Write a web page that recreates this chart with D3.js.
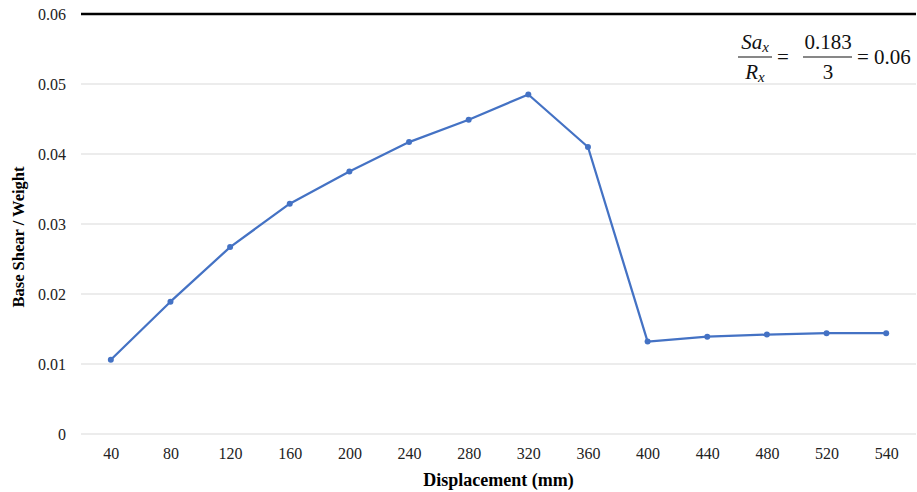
<!DOCTYPE html>
<html>
<head>
<meta charset="utf-8">
<script src="https://cdn.jsdelivr.net/npm/d3@7"></script>
<style>
  body { margin: 0; background: #fff; }
  text { font-family: "Liberation Serif", "Times New Roman", serif; }
</style>
</head>
<body>
<svg width="917" height="492"></svg>
<script>
(function () {
  'use strict';

  // chart data
  var displacement = ["40", "80", "120", "160", "200", "240", "280", "320", "360", "400", "440", "480", "520", "540"];
  var shearRatio = [0.0106, 0.0189, 0.0267, 0.0329, 0.0375, 0.0417, 0.0449, 0.0485, 0.0410, 0.0132, 0.0139, 0.0142, 0.0144, 0.0144];
  var yTicks = [0, 0.01, 0.02, 0.03, 0.04, 0.05, 0.06];

  var svg = d3.select("svg"),
      margin = {top: 14, right: 1, bottom: 58, left: 81},
      width = +svg.attr("width") - margin.left - margin.right,
      height = +svg.attr("height") - margin.top - margin.bottom;

  var g = svg.append("g").attr("transform", "translate(" + margin.left + "," + margin.top + ")");

  var x = d3.scalePoint()
      .domain(displacement)
      .range([0, width])
      .padding(0.5);

  var y = d3.scaleLinear()
      .domain([0, 0.06])
      .range([height, 0]);

  //gridlines, the top one is the heavy black limit line
  g.selectAll(".grid")
    .data(yTicks)
    .enter().append("line")
      .attr("x1", 0)
      .attr("x2", width)
      .attr("y1", function(d) { return y(d); })
      .attr("y2", function(d) { return y(d); })
      .attr("stroke", function(d) { return d === 0.06 ? "#000" : "#d9d9d9"; })
      .attr("stroke-width", function(d) { return d === 0.06 ? 2.5 : 1; });

  //y axis labels
  var yAxis = g.append("g")
      .call(d3.axisLeft(y).tickValues(yTicks).tickSize(0).tickPadding(15)
        .tickFormat(function(d) { return d === 0 ? "0" : d3.format(".2f")(d); }));
  yAxis.select(".domain").remove();
  yAxis.selectAll("text")
      .style("font-family", "'Liberation Serif', serif")
      .attr("font-size", 16)
      .attr("fill", "#222");

  //x axis labels
  var xAxis = g.append("g")
      .attr("transform", "translate(0," + height + ")")
      .call(d3.axisBottom(x).tickSize(0).tickPadding(14));
  xAxis.select(".domain").remove();
  xAxis.selectAll("text")
      .style("font-family", "'Liberation Serif', serif")
      .attr("font-size", 16)
      .attr("fill", "#222");

  //the series line and markers
  var line = d3.line()
      .x(function(d, i) { return x(displacement[i]); })
      .y(function(d) { return y(d); });

  g.append("path")
      .datum(shearRatio)
      .attr("fill", "none")
      .attr("stroke", "#4472C4")
      .attr("stroke-width", 2.25)
      .attr("stroke-linejoin", "round")
      .attr("d", line);

  g.selectAll(".dot")
    .data(shearRatio)
    .enter().append("circle")
      .attr("cx", function(d, i) { return x(displacement[i]); })
      .attr("cy", function(d) { return y(d); })
      .attr("r", 3)
      .attr("fill", "#4472C4");

  //axis titles
  svg.append("text")
      .attr("x", margin.left + width / 2)
      .attr("y", 486)
      .attr("text-anchor", "middle")
      .attr("font-size", 18)
      .attr("font-weight", "bold")
      .text("Displacement (mm)");

  svg.append("text")
      .attr("transform", "translate(24," + (margin.top + height / 2 + 13) + ") rotate(-90)")
      .attr("text-anchor", "middle")
      .attr("font-size", 16.5)
      .attr("font-weight", "bold")
      .text("Base Shear / Weight");

  //equation in the top right corner
  var eq = svg.append("g").attr("font-size", 21).attr("fill", "#111");

  var f1 = eq.append("text").attr("x", 755).attr("y", 49).attr("text-anchor", "middle").attr("font-style", "italic");
  f1.append("tspan").text("Sa");
  f1.append("tspan").attr("font-size", 15).attr("dy", 3).text("x");
  var f2 = eq.append("text").attr("x", 755).attr("y", 79).attr("text-anchor", "middle").attr("font-style", "italic");
  f2.append("tspan").text("R");
  f2.append("tspan").attr("font-size", 15).attr("dy", 3).text("x");
  eq.append("line").attr("x1", 738).attr("x2", 772).attr("y1", 57).attr("y2", 57).attr("stroke", "#111").attr("stroke-width", 1.2);

  eq.append("text").attr("x", 783).attr("y", 64).attr("text-anchor", "middle").text("=");

  eq.append("text").attr("x", 828).attr("y", 49).attr("text-anchor", "middle").text("0.183");
  eq.append("text").attr("x", 828).attr("y", 79).attr("text-anchor", "middle").text("3");
  eq.append("line").attr("x1", 803).attr("x2", 852).attr("y1", 57).attr("y2", 57).attr("stroke", "#111").attr("stroke-width", 1.2);

  eq.append("text").attr("x", 857).attr("y", 64).text("= 0.06");
}());
</script>
</body>
</html>
